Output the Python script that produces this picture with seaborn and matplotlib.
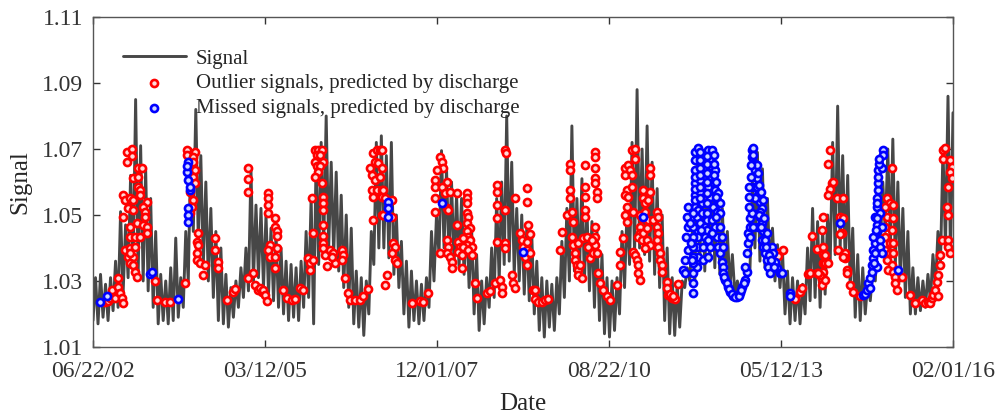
"""Signal record with outlier and missed points predicted by discharge."""

import numpy as np
import pandas as pd
import matplotlib
matplotlib.use("Agg")
import matplotlib.pyplot as plt
import seaborn as sns

# x axis tick labels (dates, mm/dd/yy)
date_ticks = ["06/22/02", "03/12/05", "12/01/07", "08/22/10", "05/12/13", "02/01/16"]
signal_ticks = [1.01, 1.03, 1.05, 1.07, 1.09, 1.11]

# signal, read as low / high value of each short window (regular sampling)
signal_low = [
    1.018, 1.017, 1.019, 1.018, 1.021, 1.022, 1.026, 1.031, 1.034, 1.032,
    1.030, 1.027, 1.022, 1.017, 1.018, 1.017, 1.018, 1.019, 1.022, 1.030,
    1.045, 1.042, 1.035, 1.030, 1.025, 1.018, 1.017, 1.016, 1.019, 1.022,
    1.025, 1.027, 1.030, 1.031, 1.028, 1.026, 1.024, 1.022, 1.020, 1.018,
    1.019, 1.018, 1.022, 1.025, 1.017, 1.035, 1.040, 1.040, 1.038, 1.033,
    1.028, 1.022, 1.017, 1.016, 1.0135, 1.020, 1.035, 1.040, 1.040, 1.037,
    1.032, 1.028, 1.020, 1.016, 1.018, 1.017, 1.018, 1.022, 1.030, 1.038,
    1.040, 1.036, 1.035, 1.034, 1.032, 1.028, 1.020, 1.015, 1.017, 1.022,
    1.025, 1.030, 1.035, 1.036, 1.032, 1.030, 1.026, 1.024, 1.020, 1.015,
    1.013, 1.016, 1.015, 1.020, 1.025, 1.030, 1.033, 1.032, 1.030, 1.027,
    1.022, 1.018, 1.014, 1.013, 1.015, 1.020, 1.028, 1.035, 1.038, 1.040,
    1.038, 1.036, 1.032, 1.028, 1.018, 1.014, 1.0135, 1.016, 1.028, 1.030,
    1.029, 1.035, 1.033, 1.036, 1.034, 1.032, 1.030, 1.028, 1.026, 1.026,
    1.028, 1.033, 1.040, 1.036, 1.034, 1.032, 1.030, 1.028, 1.020, 1.017,
    1.018, 1.017, 1.020, 1.024, 1.025, 1.022, 1.026, 1.035, 1.038, 1.040,
    1.036, 1.028, 1.019, 1.018, 1.020, 1.024, 1.030, 1.040, 1.045, 1.040,
    1.035, 1.030, 1.025, 1.020, 1.020, 1.021, 1.022, 1.024, 1.028, 1.035,
    1.040, 1.038,
]
signal_high = [
    1.031, 1.032, 1.029, 1.031, 1.036, 1.051, 1.047, 1.062, 1.085, 1.071,
    1.064, 1.055, 1.045, 1.032, 1.030, 1.034, 1.043, 1.031, 1.045, 1.070,
    1.082, 1.068, 1.060, 1.052, 1.045, 1.040, 1.032, 1.028, 1.030, 1.034,
    1.040, 1.064, 1.053, 1.052, 1.050, 1.046, 1.044, 1.040, 1.036, 1.035,
    1.034, 1.036, 1.045, 1.055, 1.068, 1.072, 1.080, 1.066, 1.063, 1.056,
    1.050, 1.046, 1.033, 1.031, 1.030, 1.045, 1.072, 1.074, 1.068, 1.072,
    1.050, 1.042, 1.036, 1.033, 1.030, 1.029, 1.031, 1.045, 1.050, 1.0695,
    1.064, 1.060, 1.056, 1.055, 1.050, 1.046, 1.038, 1.030, 1.031, 1.040,
    1.055, 1.060, 1.080, 1.066, 1.052, 1.050, 1.046, 1.044, 1.036, 1.031,
    1.030, 1.029, 1.031, 1.042, 1.052, 1.077, 1.055, 1.061, 1.052, 1.048,
    1.045, 1.038, 1.031, 1.030, 1.031, 1.045, 1.052, 1.072, 1.088, 1.070,
    1.077, 1.066, 1.058, 1.050, 1.040, 1.031, 1.029, 1.030, 1.034, 1.045,
    1.0695, 1.068, 1.062, 1.069, 1.060, 1.052, 1.045, 1.038, 1.030, 1.028,
    1.032, 1.060, 1.069, 1.064, 1.055, 1.046, 1.041, 1.039, 1.033, 1.031,
    1.030, 1.029, 1.040, 1.052, 1.048, 1.046, 1.050, 1.072, 1.083, 1.068,
    1.062, 1.046, 1.038, 1.034, 1.030, 1.033, 1.045, 1.060, 1.070, 1.073,
    1.060, 1.052, 1.045, 1.034, 1.031, 1.030, 1.032, 1.038, 1.045, 1.070,
    1.086, 1.081,
]

# outlier signals (decimal year, value)
outlier_t = [
    2002.66, 2002.71, 2002.74, 2002.77, 2002.82, 2002.87, 2002.87, 2002.90, 2002.93, 2002.95,
    2003.01, 2003.09, 2003.09, 2003.01, 2003.18, 2003.25, 2003.10, 2003.18, 2003.18, 2003.22,
    2003.22, 2002.95, 2002.98, 2003.06, 2003.10, 2003.33, 2003.26, 2003.29, 2002.95, 2003.03,
    2003.10, 2003.29, 2003.06, 2003.17, 2003.26, 2003.33, 2003.06, 2003.14, 2003.22, 2003.33,
    2002.98, 2003.06, 2003.14, 2003.03, 2003.10, 2003.06, 2003.10, 2003.14, 2003.17, 2003.06,
    2003.45, 2003.48, 2003.61, 2003.69, 2003.93,
    2003.96, 2003.96, 2004.09, 2004.05, 2004.05, 2004.09, 2004.05, 2004.09, 2004.01, 2004.05,
    2004.04, 2004.01, 2004.13, 2004.12, 2004.13, 2004.12, 2004.12, 2004.17, 2004.24, 2004.21,
    2004.40, 2004.40, 2004.45, 2004.45, 2004.59, 2004.69, 2004.72,
    2004.93, 2004.93, 2004.93, 2005.00, 2004.93, 2005.04, 2005.08, 2005.12, 2005.15, 2005.16,
    2005.19, 2005.23, 2005.24, 2005.24, 2005.24, 2005.24, 2005.35, 2005.35, 2005.38, 2005.38,
    2005.27, 2005.24, 2005.27, 2005.35, 2005.35, 2005.38, 2005.48, 2005.54, 2005.62, 2005.67,
    2005.75, 2005.80, 2005.87, 2005.91, 2005.91, 2005.95, 2005.94, 2005.95,
    2005.99, 2006.03, 2006.10, 2006.02, 2006.06, 2005.99, 2006.11, 2006.02, 2006.06, 2006.03,
    2005.99, 2006.10, 2006.11, 2006.11, 2006.11, 2006.11, 2006.11, 2006.11, 2006.11, 2006.14,
    2006.18, 2006.22, 2006.27, 2006.30, 2006.25, 2006.41, 2006.43, 2006.41, 2006.46, 2006.51,
    2006.54, 2006.62, 2006.70, 2006.75, 2006.82,
    2006.90, 2006.97, 2007.01, 2006.94, 2006.98, 2006.86, 2007.05, 2006.89, 2006.94, 2007.01,
    2006.89, 2006.97, 2007.05, 2006.90, 2007.05, 2007.05, 2006.90, 2007.05, 2007.06, 2007.09,
    2007.20, 2007.06, 2007.20, 2007.22, 2007.25, 2007.20, 2007.25, 2007.28, 2007.12, 2007.09,
    2007.52, 2007.65, 2007.70, 2007.77,
    2007.89, 2007.89, 2007.89, 2007.89, 2007.96, 2008.00, 2008.01, 2007.92, 2008.08, 2008.00,
    2008.04, 2008.12, 2008.08, 2008.09, 2007.96, 2008.08, 2008.09, 2008.08, 2008.12, 2008.15,
    2008.15, 2008.23, 2008.25, 2008.28, 2008.25, 2008.31, 2008.31, 2008.23,
    2008.39, 2008.39, 2008.39, 2008.39, 2008.41, 2008.39, 2008.44, 2008.39, 2008.41, 2008.36,
    2008.44, 2008.39, 2008.33, 2008.47, 2008.41, 2008.47, 2008.33,
    2008.52, 2008.55, 2008.71, 2008.76, 2008.84, 2008.91, 2008.95, 2008.95, 2009.10, 2009.12,
    2009.15, 2008.87, 2008.87, 2008.87, 2008.87, 2008.87, 2008.99, 2009.01, 2008.99, 2008.99,
    2008.99, 2009.15, 2009.23, 2009.26, 2009.28, 2009.34, 2009.34, 2009.31, 2009.34, 2009.34,
    2009.39, 2009.34, 2009.44, 2009.47, 2009.52, 2009.58, 2009.63, 2009.67, 2009.36, 2009.39,
    2009.47,
    2009.86, 2009.90, 2009.97, 2010.02, 2010.02, 2010.02, 2010.02, 2010.05, 2010.07, 2010.05,
    2010.07, 2010.10, 2010.10, 2010.13, 2010.15, 2010.15, 2010.21, 2010.18, 2010.15, 2010.23,
    2010.26, 2010.26, 2010.26, 2010.26, 2010.26, 2010.29, 2010.31, 2010.34,
    2010.42, 2010.42, 2010.42, 2010.42, 2010.42, 2010.45, 2010.45, 2010.42, 2010.42, 2010.42,
    2010.39, 2010.45, 2010.37, 2010.47, 2010.50, 2010.54, 2010.61, 2010.66, 2010.77, 2010.81,
    2010.81, 2010.86,
    2010.89, 2010.94, 2010.97, 2010.89, 2010.92, 2010.89, 2010.94, 2010.92, 2010.89, 2010.92,
    2011.00, 2011.05, 2011.05, 2011.00, 2011.00, 2011.02, 2011.02, 2011.05, 2011.08, 2011.10,
    2011.10, 2011.13, 2011.13, 2011.13, 2011.18, 2011.18, 2011.21, 2011.13, 2011.16, 2011.10,
    2011.16, 2011.18, 2011.24, 2011.29, 2011.29, 2011.29, 2011.26, 2011.21, 2011.26, 2011.24,
    2011.29, 2011.21,
    2011.34, 2011.40, 2011.42, 2011.40, 2011.42, 2011.40, 2011.42, 2011.45, 2011.45, 2011.48,
    2011.48, 2011.56, 2011.56, 2011.57, 2011.64, 2011.68, 2011.61, 2011.65, 2011.73,
    2013.30, 2013.32, 2013.39, 2013.58, 2013.66, 2013.69, 2013.79, 2013.82, 2013.85, 2013.93,
    2013.93, 2014.01, 2014.03, 2014.01, 2014.03, 2014.03, 2014.03, 2014.03, 2014.01, 2014.01,
    2014.06, 2014.06, 2014.06, 2013.98, 2013.95, 2014.11,
    2014.14, 2014.11, 2014.17, 2014.19, 2014.14, 2014.11, 2014.25, 2014.34, 2014.30, 2014.34,
    2014.33, 2014.26, 2014.38, 2014.38, 2014.41, 2014.41, 2014.45, 2014.50, 2014.61, 2014.30,
    2014.34,
    2015.12, 2015.04, 2015.09, 2015.01, 2015.14, 2015.04, 2015.14, 2015.01, 2015.12, 2015.01,
    2015.09, 2015.14, 2015.01, 2015.09, 2015.14, 2015.04, 2015.12, 2015.06, 2015.14, 2015.17,
    2015.17, 2015.20, 2015.28, 2015.40, 2015.48,
    2015.59, 2015.64, 2015.69, 2015.72, 2015.75, 2015.77, 2015.80, 2015.83, 2015.85, 2015.85,
    2015.88, 2015.88, 2015.91, 2015.93, 2015.96, 2015.93, 2016.04, 2016.07, 2016.04, 2016.07,
    2016.01, 2015.99, 2016.01, 2016.01, 2016.01, 2016.04,
]
outlier_v = [
    1.0237, 1.0240, 1.0247, 1.0273, 1.0247, 1.0308, 1.0283, 1.0263, 1.0247, 1.0232,
    1.0692, 1.0699, 1.0680, 1.0660, 1.0641, 1.0641, 1.0611, 1.0616, 1.0586, 1.0576,
    1.0560, 1.0560, 1.0545, 1.0550, 1.0545, 1.0540, 1.0525, 1.0510, 1.0495, 1.0520,
    1.0515, 1.0495, 1.0465, 1.0475, 1.0470, 1.0465, 1.0434, 1.0434, 1.0434, 1.0444,
    1.0394, 1.0399, 1.0404, 1.0374, 1.0374, 1.0353, 1.0348, 1.0328, 1.0313, 1.0384,
    1.0300, 1.0242, 1.0237, 1.0237, 1.0295,
    1.0697, 1.0682, 1.0692, 1.0677, 1.0662, 1.0636, 1.0616, 1.0596, 1.0571, 1.0545,
    1.0525, 1.0505, 1.0444, 1.0419, 1.0409, 1.0384, 1.0364, 1.0354, 1.0348, 1.0318,
    1.0429, 1.0394, 1.0359, 1.0338, 1.0242, 1.0268, 1.0275,
    1.0642, 1.0608, 1.0571, 1.0323, 1.0308, 1.0288, 1.0273, 1.0278, 1.0268, 1.0273,
    1.0258, 1.0238, 1.0566, 1.0551, 1.0531, 1.0505, 1.0490, 1.0465, 1.0450, 1.0435,
    1.0410, 1.0394, 1.0374, 1.0374, 1.0339, 1.0399, 1.0273, 1.0248, 1.0243, 1.0245,
    1.0278, 1.0273, 1.0369, 1.0354, 1.0333, 1.0364, 1.0551, 1.0445,
    1.0697, 1.0697, 1.0697, 1.0682, 1.0682, 1.0662, 1.0662, 1.0647, 1.0647, 1.0631,
    1.0616, 1.0596, 1.0556, 1.0535, 1.0515, 1.0470, 1.0435, 1.0414, 1.0399, 1.0379,
    1.0344, 1.0394, 1.0384, 1.0354, 1.0374, 1.0394, 1.0379, 1.0364, 1.0308, 1.0263,
    1.0243, 1.0241, 1.0243, 1.0253, 1.0275,
    1.0687, 1.0697, 1.0697, 1.0662, 1.0657, 1.0642, 1.0642, 1.0621, 1.0606, 1.0616,
    1.0576, 1.0576, 1.0576, 1.0556, 1.0556, 1.0500, 1.0485, 1.0697, 1.0576, 1.0550,
    1.0545, 1.0500, 1.0495, 1.0414, 1.0404, 1.0384, 1.0364, 1.0353, 1.0318, 1.0288,
    1.0234, 1.0240, 1.0237, 1.0263,
    1.0606, 1.0586, 1.0550, 1.0510, 1.0677, 1.0661, 1.0641, 1.0636, 1.0601, 1.0586,
    1.0566, 1.0571, 1.0520, 1.0515, 1.0384, 1.0424, 1.0404, 1.0384, 1.0374, 1.0359,
    1.0338, 1.0470, 1.0419, 1.0404, 1.0389, 1.0379, 1.0338, 1.0566,
    1.0566, 1.0550, 1.0535, 1.0505, 1.0495, 1.0475, 1.0460, 1.0450, 1.0434, 1.0424,
    1.0424, 1.0409, 1.0404, 1.0404, 1.0394, 1.0379, 1.0429,
    1.0293, 1.0247, 1.0263, 1.0271, 1.0293, 1.0303, 1.0283, 1.0263, 1.0318, 1.0293,
    1.0278, 1.0591, 1.0571, 1.0530, 1.0490, 1.0419, 1.0697, 1.0687, 1.0515, 1.0414,
    1.0399, 1.0550, 1.0444, 1.0424, 1.0404, 1.0419, 1.0394, 1.0374, 1.0581, 1.0540,
    1.0443, 1.0347, 1.0272, 1.0246, 1.0236, 1.0236, 1.0241, 1.0246, 1.0470, 1.0384,
    1.0273,
    1.0394, 1.0449, 1.0500, 1.0656, 1.0636, 1.0576, 1.0550, 1.0510, 1.0480, 1.0434,
    1.0409, 1.0384, 1.0364, 1.0348, 1.0333, 1.0318, 1.0308, 1.0348, 1.0414, 1.0429,
    1.0651, 1.0586, 1.0556, 1.0515, 1.0495, 1.0434, 1.0404, 1.0369,
    1.0692, 1.0677, 1.0641, 1.0611, 1.0596, 1.0571, 1.0550, 1.0465, 1.0434, 1.0409,
    1.0384, 1.0384, 1.0424, 1.0323, 1.0293, 1.0273, 1.0253, 1.0242, 1.0288, 1.0348,
    1.0389, 1.0429,
    1.0641, 1.0651, 1.0636, 1.0621, 1.0576, 1.0560, 1.0555, 1.0525, 1.0500, 1.0480,
    1.0697, 1.0699, 1.0671, 1.0621, 1.0586, 1.0510, 1.0389, 1.0379, 1.0364, 1.0348,
    1.0323, 1.0303, 1.0465, 1.0444, 1.0576, 1.0550, 1.0535, 1.0500, 1.0490, 1.0434,
    1.0424, 1.0444, 1.0460, 1.0641, 1.0621, 1.0571, 1.0545, 1.0510, 1.0485, 1.0424,
    1.0409, 1.0399,
    1.0485, 1.0510, 1.0495, 1.0465, 1.0444, 1.0424, 1.0404, 1.0384, 1.0364, 1.0348,
    1.0328, 1.0298, 1.0278, 1.0257, 1.0247, 1.0244, 1.0262, 1.0253, 1.0292,
    1.0384, 1.0376, 1.0395, 1.0245, 1.0268, 1.0278, 1.0322, 1.0323, 1.0437, 1.0396,
    1.0323, 1.0322, 1.0494, 1.0454, 1.0403, 1.0383, 1.0353, 1.0327, 1.0307, 1.0287,
    1.0379, 1.0353, 1.0303, 1.0318, 1.0323, 1.0353,
    1.0697, 1.0656, 1.0596, 1.0601, 1.0580, 1.0560, 1.0550, 1.0550, 1.0495, 1.0490,
    1.0444, 1.0394, 1.0384, 1.0369, 1.0333, 1.0323, 1.0288, 1.0268, 1.0253, 1.0443,
    1.0373,
    1.0641, 1.0550, 1.0535, 1.0525, 1.0530, 1.0495, 1.0490, 1.0465, 1.0455, 1.0434,
    1.0414, 1.0414, 1.0394, 1.0384, 1.0384, 1.0364, 1.0348, 1.0333, 1.0328, 1.0313,
    1.0293, 1.0273, 1.0313, 1.0258, 1.0232,
    1.0242, 1.0232, 1.0237, 1.0232, 1.0247, 1.0258, 1.0273, 1.0298, 1.0318, 1.0253,
    1.0348, 1.0379, 1.0424, 1.0697, 1.0702, 1.0671, 1.0666, 1.0646, 1.0631, 1.0611,
    1.0586, 1.0525, 1.0500, 1.0424, 1.0404, 1.0384,
]

# missed signals (decimal year, value)
missed_t = [
    2002.58, 2002.69, 2003.37, 2003.41, 2003.82, 2003.98, 2003.96, 2003.98, 2004.01, 2003.98,
    2003.98, 2003.98, 2003.96, 2004.01, 2007.14, 2007.14, 2007.14, 2008.00, 2009.28, 2011.18,
    2011.81, 2011.84, 2011.89, 2011.87, 2011.89, 2011.97, 2011.97, 2011.97, 2012.00, 2012.05,
    2012.08, 2012.00, 2012.08, 2012.00, 2012.08, 2012.00, 2012.08, 2012.00, 2012.05, 2012.03,
    2012.08, 2012.03, 2012.05, 2012.03, 2012.05, 2012.03, 2012.13, 2012.13, 2012.16, 2012.16,
    2012.13, 2012.19, 2012.11, 2012.21, 2012.27, 2012.24, 2012.27, 2012.24, 2012.29, 2012.21,
    2012.32, 2012.24, 2012.35, 2012.29, 2012.35, 2012.27, 2012.32, 2012.35, 2012.37, 2012.40,
    2012.43, 2012.44, 2012.44, 2012.48, 2012.52, 2012.56, 2012.60, 2012.67, 2012.71, 2012.75,
    2012.79, 2012.82, 2012.79, 2012.40, 2012.40, 2012.43, 2012.44, 2012.37, 2012.40, 2012.32,
    2012.19, 2012.21, 2012.24, 2012.21, 2012.27,
    2012.00, 2012.00, 2012.00, 2012.00, 2011.97, 2011.97, 2011.97, 2011.97, 2011.97, 2011.97,
    2012.08, 2012.08, 2012.08, 2012.08, 2012.11, 2012.10,
    2012.19, 2012.19, 2012.19, 2012.19, 2012.19, 2012.19, 2012.19, 2012.30, 2012.30, 2012.30,
    2012.33, 2012.33, 2012.33,
    2011.84, 2011.86, 2011.89, 2011.92, 2011.94, 2011.95,
    2012.46, 2012.50, 2012.54, 2012.58, 2012.63, 2012.69, 2012.73, 2012.77,
    2012.82, 2012.84, 2012.84, 2012.87, 2012.87, 2012.90, 2012.92, 2012.90, 2012.95, 2012.95,
    2012.98, 2012.92, 2012.98, 2013.00, 2013.03, 2013.06, 2013.03, 2013.06, 2013.08, 2013.06,
    2013.08, 2013.11, 2013.14, 2013.16, 2013.19, 2013.22, 2013.24, 2013.27, 2013.30, 2013.35,
    2013.00, 2012.95, 2012.90, 2012.92, 2013.00, 2012.98, 2012.92, 2012.87, 2013.03, 2013.08,
    2013.11, 2013.14, 2013.38, 2013.51, 2013.51,
    2012.86, 2012.86, 2012.86, 2012.89, 2012.89, 2013.01, 2013.01, 2013.05, 2013.05, 2013.10,
    2013.13, 2013.17, 2013.20, 2013.25,
    2014.30, 2014.66, 2014.69, 2014.72, 2014.74, 2014.77, 2014.77, 2014.80, 2014.80, 2014.82,
    2014.82, 2014.85, 2014.82, 2014.88, 2014.88, 2014.85, 2014.88, 2014.88, 2014.90, 2014.90,
    2014.90, 2014.90, 2014.96, 2014.98, 2014.98, 2014.93, 2014.93, 2014.96, 2014.96, 2014.93,
    2014.85, 2014.88, 2015.21,
    2014.88, 2014.88, 2014.91, 2014.91, 2014.86, 2014.84,
]
missed_v = [
    1.0237, 1.0255, 1.0322, 1.0327, 1.0245, 1.0662, 1.0631, 1.0606, 1.0576, 1.0520,
    1.0500, 1.0480, 1.0650, 1.0586, 1.0540, 1.0520, 1.0495, 1.0535, 1.0389, 1.0494,
    1.0333, 1.0363, 1.0394, 1.0495, 1.0465, 1.0263, 1.0293, 1.0323, 1.0692, 1.0702,
    1.0692, 1.0636, 1.0641, 1.0596, 1.0606, 1.0560, 1.0571, 1.0525, 1.0515, 1.0495,
    1.0475, 1.0454, 1.0434, 1.0404, 1.0374, 1.0343, 1.0363, 1.0404, 1.0434, 1.0465,
    1.0505, 1.0485, 1.0535, 1.0697, 1.0697, 1.0671, 1.0646, 1.0616, 1.0596, 1.0586,
    1.0576, 1.0555, 1.0545, 1.0525, 1.0510, 1.0485, 1.0465, 1.0434, 1.0404, 1.0384,
    1.0358, 1.0343, 1.0323, 1.0303, 1.0283, 1.0268, 1.0253, 1.0250, 1.0263, 1.0283,
    1.0303, 1.0328, 1.0343, 1.0505, 1.0465, 1.0434, 1.0404, 1.0566, 1.0535, 1.0636,
    1.0454, 1.0424, 1.0404, 1.0374, 1.0444,
    1.0666, 1.0616, 1.0580, 1.0545, 1.0505, 1.0465, 1.0434, 1.0404, 1.0374, 1.0353,
    1.0666, 1.0621, 1.0586, 1.0550, 1.0505, 1.0455,
    1.0680, 1.0656, 1.0626, 1.0601, 1.0566, 1.0535, 1.0505, 1.0682, 1.0656, 1.0621,
    1.0601, 1.0556, 1.0495,
    1.0323, 1.0434, 1.0525, 1.0475, 1.0414, 1.0363,
    1.0313, 1.0293, 1.0275, 1.0260, 1.0252, 1.0255, 1.0272, 1.0293,
    1.0384, 1.0414, 1.0444, 1.0465, 1.0490, 1.0697, 1.0702, 1.0677, 1.0656, 1.0636,
    1.0611, 1.0586, 1.0586, 1.0560, 1.0540, 1.0520, 1.0495, 1.0475, 1.0450, 1.0424,
    1.0404, 1.0384, 1.0363, 1.0343, 1.0323, 1.0404, 1.0384, 1.0358, 1.0338, 1.0323,
    1.0465, 1.0550, 1.0505, 1.0465, 1.0626, 1.0651, 1.0682, 1.0434, 1.0510, 1.0545,
    1.0424, 1.0444, 1.0323, 1.0263, 1.0253,
    1.0525, 1.0556, 1.0586, 1.0616, 1.0651, 1.0590, 1.0500, 1.0465, 1.0570, 1.0490,
    1.0404, 1.0380, 1.0363, 1.0343,
    1.0475, 1.0258, 1.0262, 1.0273, 1.0293, 1.0308, 1.0278, 1.0328, 1.0348, 1.0369,
    1.0394, 1.0414, 1.0434, 1.0450, 1.0470, 1.0495, 1.0525, 1.0550, 1.0576, 1.0596,
    1.0616, 1.0636, 1.0641, 1.0697, 1.0682, 1.0424, 1.0404, 1.0384, 1.0465, 1.0505,
    1.0384, 1.0343, 1.0333,
    1.0490, 1.0535, 1.0656, 1.0671, 1.0455, 1.0353,
]


def decimal_year(ts):
    days = 366 if ts.is_leap_year else 365
    return ts.year + (ts.dayofyear - 1) / days


tick_pos = [decimal_year(pd.to_datetime(d, format="%m/%d/%y")) for d in date_ticks]

sns.set_theme(style="ticks")
plt.rcParams["font.family"] = ["Liberation Serif", "DejaVu Serif"]

# interleave low/high reads into one sampled trace
trace = np.empty(2 * len(signal_low))
trace[0::2] = signal_low
trace[1::2] = signal_high
sig_df = pd.DataFrame({"t": np.linspace(tick_pos[0], tick_pos[-1], len(trace)), "signal": trace})
out_df = pd.DataFrame({"t": outlier_t, "signal": outlier_v})
mis_df = pd.DataFrame({"t": missed_t, "signal": missed_v})

fig = plt.figure(figsize=(10, 4.16), dpi=100)
ax = fig.add_axes([0.093, 0.166, 0.860, 0.793])

sns.lineplot(data=sig_df, x="t", y="signal", estimator=None, sort=False,
             color="#474747", linewidth=2.1, label="Signal", ax=ax, zorder=1)
sns.scatterplot(data=out_df, x="t", y="signal", marker="o", s=26,
                color="#ffd8d8", edgecolor="#ff0000", linewidth=1.9,
                label="Outlier signals, predicted by discharge", ax=ax, zorder=3)
sns.scatterplot(data=mis_df, x="t", y="signal", marker="o", s=26,
                color="#d0d8ff", edgecolor="#0000ff", linewidth=1.9,
                label="Missed signals, predicted by discharge", ax=ax, zorder=3)

ax.set_xlim(tick_pos[0], tick_pos[-1])
ax.set_ylim(signal_ticks[0], signal_ticks[-1])
ax.set_xticks(tick_pos)
ax.set_xticklabels(date_ticks)
ax.set_yticks(signal_ticks)
ax.set_yticklabels([f"{v:.2f}" for v in signal_ticks])
ax.tick_params(direction="in", length=5, width=1, colors="#333333",
               top=True, right=True, labelsize=17)
ax.tick_params(axis="x", pad=10)
ax.tick_params(axis="y", pad=7)
for sp in ax.spines.values():
    sp.set_color("#555555")
    sp.set_linewidth(1)
ax.set_xlabel("Date", fontsize=18, labelpad=8)
ax.set_ylabel("Signal", fontsize=18, labelpad=8)

ax.legend(loc="upper left", bbox_to_anchor=(0.035, 0.903), frameon=False,
          fontsize=15, handlelength=3, handletextpad=0.5, labelspacing=0.25,
          borderaxespad=0, borderpad=0)

fig.savefig("out.png", dpi=100)
plt.close(fig)
